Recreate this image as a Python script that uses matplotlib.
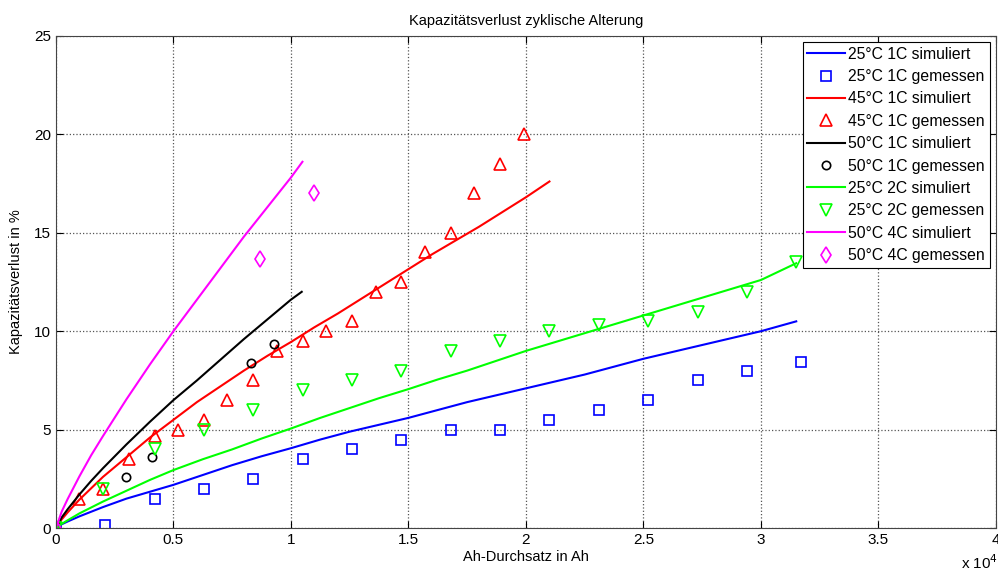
import matplotlib.pyplot as plt
from matplotlib.ticker import FuncFormatter, MultipleLocator

plt.rcParams['font.family'] = ['Liberation Sans', 'DejaVu Sans']

# simulated curves (x in Ah, y in %)
sim_25_1c_x = [0, 250, 500, 1000, 2000, 3000, 4000, 5000, 6000, 7500, 8750, 10000, 11250, 12500, 13750, 15000, 16250,
               17500, 18750, 20000, 22500, 25000, 27500, 30000, 31500]
sim_25_1c_y = [0, 0.2, 0.34, 0.6, 1.07, 1.5, 1.85, 2.2, 2.6, 3.2, 3.65, 4.06, 4.5, 4.9, 5.25, 5.6, 6.0,
               6.4, 6.75, 7.1, 7.8, 8.6, 9.3, 10.0, 10.5]

sim_45_1c_x = [0, 250, 500, 1000, 2000, 3000, 4000, 5000, 6000, 7000, 8000, 9000, 10000, 11000, 12000, 13000,
               14000, 15000, 16000, 17000, 18000, 19000, 20000, 21000]
sim_45_1c_y = [0, 0.45, 0.8, 1.45, 2.6, 3.6, 4.6, 5.5, 6.4, 7.2, 8.0, 8.75, 9.45, 10.2, 10.9, 11.65,
               12.4, 13.15, 13.9, 14.6, 15.3, 16.05, 16.8, 17.6]

sim_50_1c_x = [0, 250, 500, 1000, 1500, 2000, 3000, 4000, 5000, 6000, 7000, 8000, 9000, 10000, 10460]
sim_50_1c_y = [0, 0.55, 0.96, 1.71, 2.4, 3.04, 4.25, 5.4, 6.5, 7.5, 8.55, 9.6, 10.6, 11.6, 12.0]

sim_25_2c_x = [0, 250, 500, 1000, 2000, 3000, 4000, 5000, 6250, 7500, 8750, 10000, 11250, 12500, 13750, 15000, 16250,
               17500, 18750, 20000, 22500, 25000, 27500, 30000, 31500]
sim_25_2c_y = [0, 0.22, 0.4, 0.75, 1.35, 1.9, 2.45, 2.95, 3.5, 4.0, 4.55, 5.06, 5.6, 6.1, 6.6, 7.06, 7.55,
               8.0, 8.5, 9.0, 9.9, 10.8, 11.7, 12.6, 13.45]

sim_50_4c_x = [0, 250, 500, 1000, 1500, 2000, 3000, 4000, 5000, 6000, 7000, 8000, 9000, 10000, 10490]
sim_50_4c_y = [0, 0.85, 1.48, 2.63, 3.7, 4.67, 6.54, 8.31, 10.0, 11.6, 13.2, 14.8, 16.3, 17.8, 18.6]

# measured points
mes_25_1c_x = [0, 2100, 4200, 6300, 8400, 10500, 12600, 14700, 16800, 18900, 21000, 23100, 25200, 27300, 29400, 31700]
mes_25_1c_y = [0, 0.15, 1.5, 2.0, 2.5, 3.5, 4.0, 4.5, 5.0, 5.0, 5.5, 6.0, 6.5, 7.5, 8.0, 8.45]

mes_45_1c_x = [0, 1000, 2000, 3100, 4200, 5200, 6300, 7300, 8400, 9400, 10500, 11500, 12600, 13600,
               14700, 15700, 16800, 17800, 18900, 19900]
mes_45_1c_y = [0, 1.5, 2.0, 3.5, 4.7, 5.0, 5.5, 6.5, 7.5, 9.0, 9.5, 10.0, 10.5, 12.0,
               12.5, 14.0, 15.0, 17.0, 18.5, 20.0]

mes_50_1c_x = [0, 3000, 4100, 8300, 9300]
mes_50_1c_y = [0, 2.6, 3.6, 8.4, 9.35]

mes_25_2c_x = [0, 2000, 4200, 6300, 8400, 10500, 12600, 14700, 16800, 18900, 21000, 23100, 25200, 27300, 29400, 31500]
mes_25_2c_y = [0, 2.0, 4.0, 5.0, 6.0, 7.0, 7.5, 8.0, 9.0, 9.5, 10.0, 10.3, 10.5, 11.0, 12.0, 13.5]

mes_50_4c_x = [0, 8700, 11000]
mes_50_4c_y = [0, 13.65, 17.0]

fig = plt.figure(figsize=(9.98, 5.76), dpi=100)
ax = fig.add_axes([0.056, 0.083, 0.942, 0.855])

lw = 1.5
mew = 1.2
ax.plot(sim_25_1c_x, sim_25_1c_y, color='#0000ff', lw=lw, label='25°C 1C simuliert')
ax.plot(mes_25_1c_x, mes_25_1c_y, 's', color='#0000ff', mfc='none', ms=7, mew=mew, label='25°C 1C gemessen')
ax.plot(sim_45_1c_x, sim_45_1c_y, color='#ff0000', lw=lw, label='45°C 1C simuliert')
ax.plot(mes_45_1c_x, mes_45_1c_y, '^', color='#ff0000', mfc='none', ms=8, mew=mew, label='45°C 1C gemessen')
ax.plot(sim_50_1c_x, sim_50_1c_y, color='black', lw=lw, label='50°C 1C simuliert')
ax.plot(mes_50_1c_x, mes_50_1c_y, 'o', color='black', mfc='none', ms=6, mew=mew, label='50°C 1C gemessen')
ax.plot(sim_25_2c_x, sim_25_2c_y, color='#00ff00', lw=lw, label='25°C 2C simuliert')
ax.plot(mes_25_2c_x, mes_25_2c_y, 'v', color='#00ff00', mfc='none', ms=8, mew=mew, label='25°C 2C gemessen')
ax.plot(sim_50_4c_x, sim_50_4c_y, color='#ff00ff', lw=lw, label='50°C 4C simuliert')
ax.plot(mes_50_4c_x, mes_50_4c_y, 'd', color='#ff00ff', mfc='none', ms=8, mew=mew, label='50°C 4C gemessen')

ax.set_xlim(0, 40000)
ax.set_ylim(0, 25)
ax.xaxis.set_major_locator(MultipleLocator(5000))
ax.yaxis.set_major_locator(MultipleLocator(5))
ax.xaxis.set_major_formatter(FuncFormatter(lambda v, p: f'{v / 1e4:g}'))
ax.tick_params(direction='in', top=True, right=True, labelsize=11, length=5)
ax.grid(True, linestyle=':', color='#555555', linewidth=0.9)
for s in ax.spines.values():
    s.set_color('#444444')

ax.set_title('Kapazitätsverlust zyklische Alterung', fontsize=10.5, pad=8)
ax.set_xlabel('Ah-Durchsatz in Ah', fontsize=10.5, labelpad=2)
ax.set_ylabel('Kapazitätsverlust in %', fontsize=10.5, labelpad=8)
fig.text(0.963, 0.012, r'x 10$^4$', fontsize=11, ha='left')

leg = ax.legend(loc='upper right', fontsize=11.3, frameon=True, fancybox=False,
                framealpha=1, edgecolor='black', handlelength=2.4, handletextpad=0.2,
                labelspacing=0.47, borderaxespad=0.4, borderpad=0.3)
leg.get_frame().set_linewidth(0.8)

fig.savefig('out.png', dpi=100)
